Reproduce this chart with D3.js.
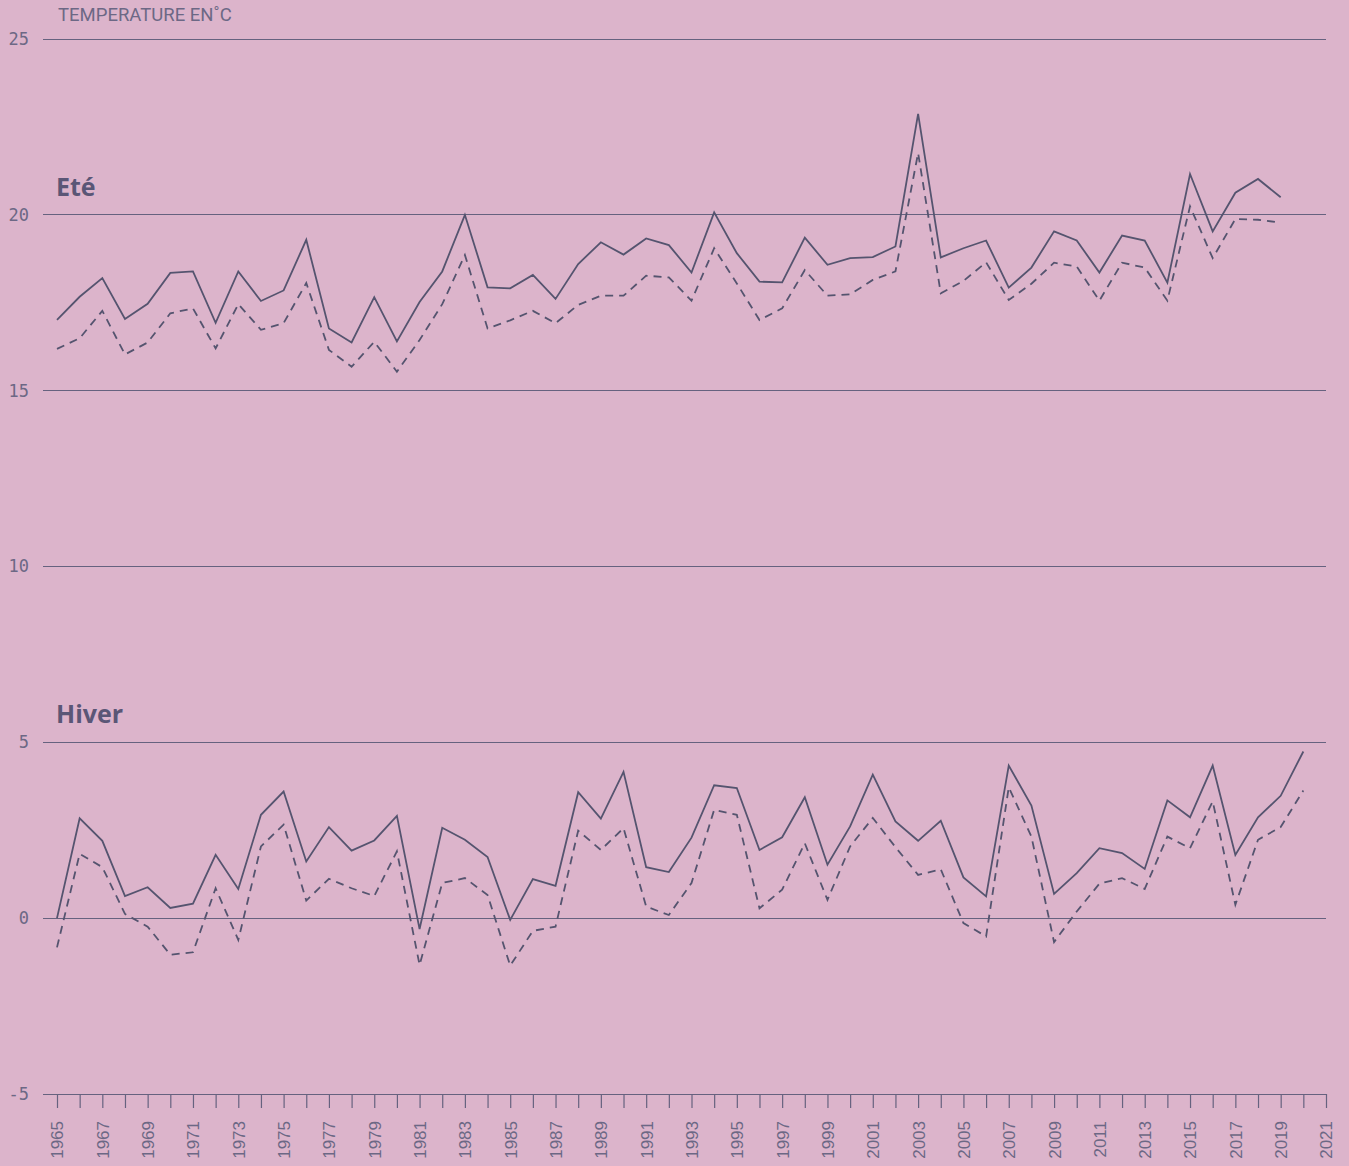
<!DOCTYPE html>
<html>
<head>
<meta charset="utf-8">
<script src="https://cdn.jsdelivr.net/npm/d3@7"></script>
<style>
  html, body { margin: 0; padding: 0; background: #dcb4cb; }
  svg { display: block; }
</style>
</head>
<body>
<svg id="chart" width="1349" height="1166"></svg>
<script>
const summerYears = d3.range(1965, 2020);
const winterYears = d3.range(1965, 2021);

const summerMax = [17.01, 17.67, 18.2, 17.04, 17.47, 18.35, 18.39, 16.93, 18.39, 17.55,
  17.85, 19.29, 16.77, 16.37, 17.66, 16.4, 17.52, 18.39, 20.0, 17.94,
  17.91, 18.29, 17.61, 18.6, 19.22, 18.87, 19.33, 19.14, 18.36, 20.07,
  18.91, 18.1, 18.08, 19.35, 18.58, 18.77, 18.8, 19.1, 22.87, 18.79,
  19.05, 19.27, 17.93, 18.5, 19.53, 19.27, 18.36, 19.41, 19.27, 18.07,
  21.16, 19.53, 20.63, 21.02, 20.5];
const summerMin = [16.19, 16.49, 17.27, 16.03, 16.37, 17.2, 17.34, 16.2, 17.46, 16.73,
  16.92, 18.06, 16.16, 15.68, 16.39, 15.54, 16.44, 17.46, 18.86, 16.77,
  17.0, 17.27, 16.92, 17.44, 17.7, 17.7, 18.27, 18.22, 17.56, 19.05,
  18.05, 17.01, 17.34, 18.43, 17.7, 17.74, 18.15, 18.39, 21.76, 17.77,
  18.12, 18.65, 17.58, 18.04, 18.64, 18.53, 17.56, 18.64, 18.5, 17.56,
  20.24, 18.77, 19.88, 19.86, 19.78];

const winterMax = [0.0, 2.84, 2.2, 0.63, 0.88, 0.29, 0.41, 1.8, 0.83, 2.94,
  3.6, 1.61, 2.59, 1.92, 2.21, 2.91, -0.31, 2.57, 2.23, 1.74,
  -0.05, 1.11, 0.92, 3.58, 2.83, 4.16, 1.45, 1.31, 2.29, 3.78,
  3.7, 1.94, 2.3, 3.44, 1.52, 2.61, 4.08, 2.75, 2.2, 2.77,
  1.16, 0.62, 4.34, 3.2, 0.69, 1.28, 1.99, 1.85, 1.4, 3.35,
  2.87, 4.34, 1.8, 2.87, 3.48, 4.74];
const winterMin = [-0.83, 1.83, 1.45, 0.12, -0.24, -1.04, -0.97, 0.85, -0.62, 2.04,
  2.66, 0.5, 1.12, 0.85, 0.63, 1.9, -1.33, 1.0, 1.14, 0.66,
  -1.35, -0.36, -0.24, 2.49, 1.94, 2.56, 0.33, 0.09, 1.0, 3.08,
  2.94, 0.28, 0.81, 2.13, 0.52, 2.04, 2.85, 2.02, 1.23, 1.39,
  -0.14, -0.52, 3.72, 2.32, -0.68, 0.19, 0.98, 1.14, 0.83, 2.32,
  1.99, 3.32, 0.38, 2.23, 2.59, 3.63];

const yTicks = [-5, 0, 5, 10, 15, 20, 25];
const xTickYears = d3.range(1965, 2022);
const xLabelYears = d3.range(1965, 2022, 2);
const seriesLabels = [{ name: "Eté", value: 20 }, { name: "Hiver", value: 5 }];
const axisTitle = "TEMPERATURE EN˚C";

const ink = "#55546f";
const grid = "#66627f";
const textCol = "#6c6885";

const svg = d3.select("#chart");
const x = d3.scaleLinear().domain([1965, 2021]).range([57, 1326]);
const y = d3.scaleLinear().domain([-5, 25]).range([1094, 39]);

// grid lines
svg.append("g").selectAll("line").data(yTicks).join("line")
  .attr("x1", 43).attr("x2", 1326)
  .attr("y1", d => y(d)).attr("y2", d => y(d))
  .attr("stroke", grid).attr("stroke-width", 1).attr("shape-rendering", "crispEdges");

// y labels
svg.append("g").selectAll("text").data(yTicks).join("text")
  .attr("x", 29).attr("y", d => y(d)).attr("dy", "0.35em")
  .attr("text-anchor", "end")
  .attr("font-family", "DejaVu Sans Mono")
  .attr("font-size", 17)
  .attr("fill", textCol)
  .text(d => d);

// x axis
const xAxis = d3.axisBottom(x)
  .tickValues(xTickYears)
  .tickSize(14)
  .tickFormat(d => (xLabelYears.includes(d) ? d : ""));
const gx = svg.append("g").attr("transform", `translate(0,${y(-5)})`).call(xAxis);
gx.select(".domain").remove();
gx.selectAll(".tick line").attr("stroke", grid).attr("stroke-width", 1.2);
gx.selectAll(".tick text")
  .attr("transform", "rotate(-90)")
  .attr("x", -27).attr("y", 0).attr("dy", "0.35em")
  .attr("text-anchor", "end")
  .attr("font-family", "Liberation Sans")
  .attr("font-size", 17)
  .attr("fill", textCol);

// title
svg.append("text").attr("x", 58).attr("y", 21)
  .attr("font-family", "Roboto").attr("font-size", 18.5)
  .attr("fill", textCol).text(axisTitle);

// series labels
svg.append("g").selectAll("text").data(seriesLabels).join("text")
  .attr("x", 56).attr("y", d => y(d.value) - 19)
  .attr("font-family", "Open Sans").attr("font-weight", 700)
  .attr("font-size", 25).attr("fill", "#5a5676")
  .text(d => d.name);

const line = d3.line().x(d => x(d[0])).y(d => y(d[1]));
function drawLine(yrs, vals, dashed) {
  svg.append("path")
    .datum(yrs.map((yr, i) => [yr, vals[i]]))
    .attr("d", line)
    .attr("fill", "none")
    .attr("stroke", ink)
    .attr("stroke-width", 1.8)
    .attr("stroke-linejoin", "miter")
    .attr("stroke-dasharray", dashed ? "8,6" : null);
}
drawLine(summerYears, summerMax, false);
drawLine(summerYears, summerMin, true);
drawLine(winterYears, winterMax, false);
drawLine(winterYears, winterMin, true);
</script>
</body>
</html>
